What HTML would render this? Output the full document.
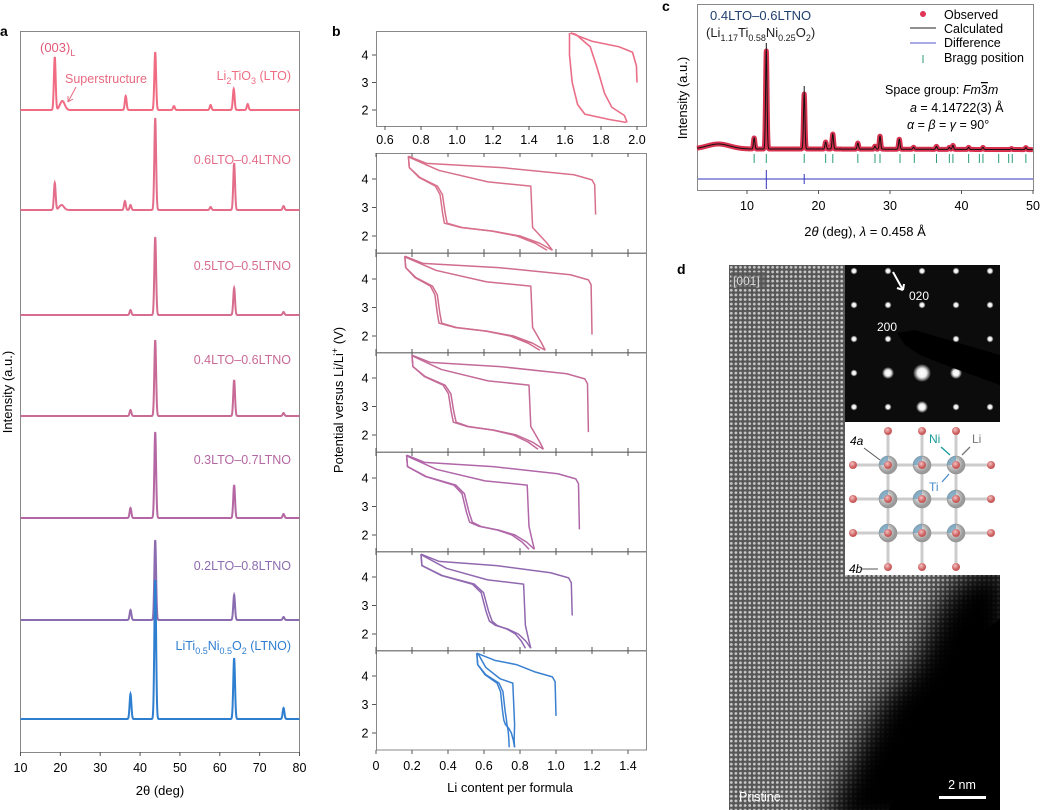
<!DOCTYPE html>
<html><head><meta charset="utf-8">
<style>
html,body{margin:0;padding:0;background:#fff;}
svg{display:block;font-family:"Liberation Sans",sans-serif;}
</style></head>
<body>
<svg id="fig" width="1040" height="810" viewBox="0 0 1040 810" xmlns="http://www.w3.org/2000/svg">
<defs>
  <pattern id="atoms" x="729" y="265" width="4.6" height="4.6" patternUnits="userSpaceOnUse">
    <rect width="4.6" height="4.6" fill="#565656"/>
    <circle cx="2.3" cy="2.3" r="1.4" fill="#c8c8c8"/>
  </pattern>
  <filter id="blur12"><feGaussianBlur stdDeviation="14"/></filter>
  <radialGradient id="spot"><stop offset="0" stop-color="#fff"/><stop offset="0.5" stop-color="#eee"/><stop offset="1" stop-color="#fff" stop-opacity="0"/></radialGradient>
  <radialGradient id="sph" cx="0.4" cy="0.4"><stop offset="0" stop-color="#fafafa"/><stop offset="1" stop-color="#9a9a9a"/></radialGradient>
  <radialGradient id="osph" cx="0.4" cy="0.35"><stop offset="0" stop-color="#f6c0c0"/><stop offset="1" stop-color="#c85a5a"/></radialGradient>
  <clipPath id="dclip"><rect x="729" y="265" width="271" height="545"/></clipPath>
</defs>

<text x="0" y="36" font-size="14" font-weight="bold">a</text>
<text x="332" y="36" font-size="14" font-weight="bold">b</text>
<text x="662" y="11" font-size="14" font-weight="bold">c</text>
<text x="677" y="274" font-size="14" font-weight="bold">d</text>

<g id="pa">
  <rect x="20.5" y="31.5" width="279" height="721" fill="none" stroke="#888" stroke-width="1"/>
  <g id="pa-curves"></g>
  <g id="pa-axis"></g>
  <text x="160" y="795" font-size="13" text-anchor="middle">2θ (deg)</text>
  <text transform="translate(12,392) rotate(-90)" font-size="13" text-anchor="middle">Intensity (a.u.)</text>
  <text x="40" y="52" font-size="13" fill="#e05a78">(003)<tspan font-size="9" dy="4">L</tspan></text>
  <text x="65" y="83" font-size="12.5" fill="#e86a80">Superstructure</text>
  <path d="M76 87 L68 102 M68 102 L68 96 M68 102 L73 99" stroke="#e86a80" fill="none" stroke-width="1"/>
</g>

<g id="pb">
  <g id="pb-frames"></g>
  <g id="pb-curves"></g>
  <text transform="translate(343,400) rotate(-90)" font-size="13" text-anchor="middle">Potential versus Li/Li<tspan font-size="9" dy="-5">+</tspan><tspan dy="5"> (V)</tspan></text>
  <text x="510" y="792" font-size="13" text-anchor="middle">Li content per formula</text>
</g>

<g id="pc">
  <rect x="697.5" y="4.5" width="336" height="186" fill="none" stroke="#888"/>
  <g id="pc-curves"></g>
  <g id="pc-axis"></g>
  <text transform="translate(687,98) rotate(-90)" font-size="13" text-anchor="middle">Intensity (a.u.)</text>
  <text x="865" y="236" font-size="13" text-anchor="middle">2<tspan font-style="italic">θ</tspan> (deg), <tspan font-style="italic">λ</tspan> = 0.458 Å</text>
  <text x="710" y="20" font-size="13" fill="#1f3f6e">0.4LTO–0.6LTNO</text>
  <text x="706" y="37" font-size="13" fill="#222">(Li<tspan font-size="9" dy="4">1.17</tspan><tspan dy="-4">Ti</tspan><tspan font-size="9" dy="4">0.58</tspan><tspan dy="-4">Ni</tspan><tspan font-size="9" dy="4">0.25</tspan><tspan dy="-4">O</tspan><tspan font-size="9" dy="4">2</tspan><tspan dy="-4">)</tspan></text>
  <g>
    <circle cx="923" cy="14" r="3" fill="#e03355"/>
    <text x="944" y="19" font-size="12.5">Observed</text>
    <line x1="910" y1="28" x2="936" y2="28" stroke="#222"/>
    <text x="944" y="33" font-size="12.5">Calculated</text>
    <line x1="910" y1="43" x2="936" y2="43" stroke="#5555cc"/>
    <text x="944" y="47" font-size="12.5">Difference</text>
    <line x1="923" y1="55" x2="923" y2="63" stroke="#2a9a7a"/>
    <text x="944" y="62" font-size="12.5">Bragg position</text>
  </g>
  <text x="885" y="94" font-size="12.5">Space group: <tspan font-style="italic">Fm</tspan><tspan text-decoration="overline">3</tspan><tspan font-style="italic">m</tspan></text>
  <text x="910" y="112" font-size="12.5"><tspan font-style="italic">a</tspan> = 4.14722(3) Å</text>
  <text x="907" y="129" font-size="12.5"><tspan font-style="italic">α</tspan> = <tspan font-style="italic">β</tspan> = <tspan font-style="italic">γ</tspan> = 90°</text>
</g>

<g id="pd">
  <rect x="729" y="265" width="271" height="545" fill="url(#atoms)"/>
  <g clip-path="url(#dclip)">
    <path d="M1010 560 L960 575 L935 610 L915 660 L880 700 L850 760 L820 830 L1030 830 Z" fill="#000" filter="url(#blur12)"/>
    <path d="M1010 610 L975 640 L950 700 L910 760 L880 830 L1030 830 Z" fill="#000"/>
  </g>
  <rect x="731" y="272" width="34" height="17" fill="#555" opacity="0.6"/>
  <text x="733" y="285" font-size="12" fill="#ddd">[001]</text>
  <text x="739" y="801" font-size="12.5" fill="#fff">Pristine</text>
  <rect x="939" y="796" width="47" height="3" fill="#fff"/>
  <text x="962" y="789" font-size="12.5" fill="#fff" text-anchor="middle">2 nm</text>
  <g id="saed">
    <rect x="845" y="265" width="155" height="157" fill="#0c0c0c"/>
  </g>
  <g id="struct">
    <rect x="845" y="422" width="155" height="153" fill="#fff"/>
  </g>
</g>

<script>
const NS="http://www.w3.org/2000/svg";
function mk(parent,tag,attrs){const e=document.createElementNS(NS,tag);for(const k in attrs)e.setAttribute(k,attrs[k]);parent.appendChild(e);return e;}
function pathD(pts){return pts.map((p,i)=>(i?"L":"M")+p[0].toFixed(2)+" "+p[1].toFixed(2)).join(" ");}
function rich(t,parts){let sub=false;parts.forEach(p=>{const ts=document.createElementNS(NS,"tspan");const s=p[1]===1;if(s){ts.setAttribute("font-size","9");}if(s!==sub){ts.setAttribute("dy",s?"4":"-4");sub=s;}ts.textContent=p[0];t.appendChild(ts);});}

/* Panel a */
const aSamples=["Li2TiO3 (LTO)","0.6LTO–0.4LTNO","0.5LTO–0.5LTNO","0.4LTO–0.6LTNO","0.3LTO–0.7LTNO","0.2LTO–0.8LTNO","LiTi0.5Ni0.5O2 (LTNO)"];
const aBaselines=[110,210,315,416,518,620,719];
const aPeakPos=[
 [18.6,20.5,36.4,43.8,48.5,57.7,63.5,67.0],
 [18.6,20.3,36.2,37.6,43.8,57.7,63.6,76.0],
 [37.6,43.8,63.6,76.0],
 [37.6,43.8,63.6,76.0],
 [37.6,43.8,63.6,76.0],
 [37.6,43.8,63.6,76.0],
 [37.6,43.8,63.6,76.0]];
const aPeakH=[
 [53,9,14,58,4,5,21,6],
 [27,5,9,5,92,3,47,4],
 [5,78,27,3],
 [6,76,36,3],
 [10,86,33,4],
 [10,80,25,3],
 [25,139,61,11]];
const aColors=["#f06c82","#e46e8a","#d66c8e","#c86a96","#b467a2","#8c6cb0","#2f7fd0"];
const aXTicks=[10,20,30,40,50,60,70,80];
const ax=t=>20.5+(t-10)*279/70;

const pac=document.getElementById("pa-curves");
aSamples.forEach((name,i)=>{
  const pts=[];
  for(let t=10;t<=80;t+=0.05){
    let y=aBaselines[i];
    aPeakPos[i].forEach((p,j)=>{const w=(aPeakH[i][j]<12&&p<22)?0.6:0.22;y-=aPeakH[i][j]*Math.exp(-((t-p)**2)/(2*w*w));});
    pts.push([ax(t),y]);
  }
  const el=mk(pac,"path",{d:pathD(pts),fill:"none",stroke:aColors[i],"stroke-width":2});
  
  
});
const aLabelY=[80,164,270,364,464,570,650];
aSamples.forEach((name,i)=>{
  const t=mk(pac,"text",{x:291,y:aLabelY[i],"font-size":12.5,fill:aColors[i],"text-anchor":"end"});
  if(i===0) rich(t,[["Li",0],["2",1],["TiO",0],["3",1],[" (LTO)",0]]);
  else if(i===6) rich(t,[["LiTi",0],["0.5",1],["Ni",0],["0.5",1],["O",0],["2",1],[" (LTNO)",0]]);
  else t.textContent=name;
  
  
});
const paa=document.getElementById("pa-axis");
aXTicks.forEach(v=>{
  mk(paa,"line",{x1:ax(v),x2:ax(v),y1:752,y2:756,stroke:"#555"});
  const t=mk(paa,"text",{x:ax(v),y:772,"font-size":12.5,"text-anchor":"middle"});t.textContent=v;
  
  
});

/* Panel b */
const bNames=["LTO","0.6LTO","0.5LTO","0.4LTO","0.3LTO","0.2LTO","LTNO"];
const bColors=["#ea6e88","#d8708c","#d06c8e","#c46a98","#b066a8","#9068b0","#3a80d0"];
const bTopCharge1=[[2.0,3.0],[1.997,3.6],[1.975,4.1],[1.9,4.3],[1.75,4.5],[1.63,4.8]];
const bTopDischarge=[[1.625,4.8],[1.625,4.0],[1.64,3.0],[1.67,2.2],[1.71,1.85],[1.85,1.65],[1.94,1.55]];
const bTopCharge2=[[1.945,1.55],[1.93,1.8],[1.86,2.1],[1.82,2.6],[1.78,3.5],[1.74,4.3],[1.66,4.75],[1.635,4.8]];
const bStartX=[1.22,1.2,1.18,1.13,1.09,1.0];
const bStartV=[2.75,2.05,2.1,2.2,2.65,2.6];
const bMinX=[0.18,0.16,0.2,0.17,0.25,0.56];
const bStepX=[0.38,0.35,0.43,0.52,0.63,0.71];
const bEndX=[0.98,0.94,0.93,0.88,0.86,0.77];
const bRetX=[0.86,0.86,0.85,0.84,0.82,0.76];
const bXTicksTop=[0.6,0.8,1.0,1.2,1.4,1.6,1.8,2.0];
const bXTicks=[0,0.2,0.4,0.6,0.8,1.0,1.2,1.4];
const bYTicks=[2,3,4];

const bxTop=x=>385+(x-0.6)*180;
const byTop=v=>55-(v-4)*27.5;
const bx=x=>376+x*180;
const panelTop=[153,253,352,452,551,650];
const by=(i,v)=>panelTop[i]+26-(v-4)*28.5;

const pbf=document.getElementById("pb-frames"),pbc=document.getElementById("pb-curves");
mk(pbf,"rect",{x:376.5,y:31.5,width:270,height:95,fill:"none",stroke:"#888"});
bXTicksTop.forEach(v=>{
  mk(pbf,"line",{x1:bxTop(v),x2:bxTop(v),y1:126,y2:130,stroke:"#555"});
  const t=mk(pbf,"text",{x:bxTop(v),y:144,"font-size":12.5,"text-anchor":"middle"});t.textContent=v.toFixed(1);
  
  
});
bYTicks.forEach(v=>{
  mk(pbf,"line",{x1:372,x2:376,y1:byTop(v),y2:byTop(v),stroke:"#555"});
  const t=mk(pbf,"text",{x:365,y:byTop(v)+4.5,"font-size":12.5,"text-anchor":"middle"});t.textContent=v;
});
[bTopCharge1,bTopDischarge,bTopCharge2].forEach((c,k)=>{
  const el=mk(pbc,"path",{d:pathD(c.map(p=>[bxTop(p[0]),byTop(p[1])])),fill:"none",stroke:bColors[0],"stroke-width":1.6});
  
  
});
for(let i=0;i<6;i++){
  const top=panelTop[i];
  mk(pbf,"rect",{x:376.5,y:top+0.5,width:270,height:99.5,fill:"none",stroke:"#888"});
  bXTicks.forEach(v=>{mk(pbf,"line",{x1:bx(v),x2:bx(v),y1:top,y2:top+4,stroke:"#555"});if(i<5)mk(pbf,"line",{x1:bx(v),x2:bx(v),y1:top+96,y2:top+100,stroke:"#555"});});
  bYTicks.forEach(v=>{
    mk(pbf,"line",{x1:372,x2:376,y1:by(i,v),y2:by(i,v),stroke:"#555"});
    const t=mk(pbf,"text",{x:365,y:by(i,v)+4.5,"font-size":12.5,"text-anchor":"middle"});t.textContent=v;
  });
  const s=bStartX[i],sv=bStartV[i],m=bMinX[i],k=bStepX[i],e=bEndX[i],r=bRetX[i];
  const ch1=[[s,sv],[s-0.005,3.8],[s-0.02,3.97],[s-0.12,4.15],[m+0.5*(s-m),4.4],[m+0.1,4.55],[m,4.8]];
  const dis=(dk,de)=>{const g=dk-m,h=de-dk;return [[m,4.8],[m+0.005,4.4],[m+0.3*g,4.05],[dk-0.25*g,3.75],[dk-0.12*g,3.45],[dk-0.05*g,2.8],[dk,2.45],[dk+0.15*h,2.3],[dk+0.45*h,2.17],[dk+0.7*h,2.0],[dk+0.88*h,1.75],[de,1.5]];};
  const ch2=[[e,1.5],[e-0.25*(e-r),1.75],[r+0.01*(e>r?1:0),2.3],[r,3.75],[r-0.35*(r-m),3.9],[m+0.25*(r-m),4.3],[m+0.01,4.75],[m,4.8]];
  [ch1,dis(k,e),ch2,dis(k+0.015,e-0.03)].forEach((c,j)=>{
    const el=mk(pbc,"path",{d:pathD(c.map(p=>[bx(p[0]),by(i,p[1])])),fill:"none",stroke:bColors[i+1],"stroke-width":1.5,"stroke-linejoin":"round"});
    
    
  });
}
bXTicks.forEach(v=>{
  mk(pbf,"line",{x1:bx(v),x2:bx(v),y1:750,y2:754,stroke:"#555"});
  const t=mk(pbf,"text",{x:bx(v),y:770,"font-size":12.5,"text-anchor":"middle"});t.textContent=v===0?"0":v.toFixed(1);
  
  
});

/* Panel c */
const cPeakPos=[11.0,12.7,18.0,21.0,22.0,25.5,27.9,28.6,31.3,33.3,36.5,38.3,38.8,41.0,43.0,47.0,49.0];
const cPeakH=[11,98,55,7,15,6,3,13,10,2,3,2,4,2,2,1,2];
const cBragg=[11,12.7,18,21,22,25.5,27.9,28.6,31.4,33.4,36.5,38.3,38.8,41,42.5,43,45.2,46.6,47.1,49];
const cXTicks=[10,20,30,40,50];
const cx=t=>747+(t-10)*7.15;
const cBase=149;
const pcc=document.getElementById("pc-curves");
const cpts=[];
for(let t=3;t<=50;t+=0.02){
  let y=cBase-5*Math.exp(-((t-6)**2)/(2*1.6*1.6))+(t>20?(t-20)*0.02:0);
  cPeakPos.forEach((p,j)=>{y-=cPeakH[j]*Math.exp(-((t-p)**2)/(2*0.1*0.1));});
  cpts.push([cx(t),y]);
}
let el=mk(pcc,"path",{d:pathD(cpts),fill:"none",stroke:"#d8304f","stroke-width":5,"stroke-linejoin":"round"});


el=mk(pcc,"path",{d:pathD(cpts),fill:"none",stroke:"#111","stroke-width":1});


[12.7,18.0].forEach(p=>mk(pcc,"line",{x1:cx(p),x2:cx(p),y1:cBase-cPeakH[cPeakPos.indexOf(p)]-8,y2:cBase-cPeakH[cPeakPos.indexOf(p)],stroke:"#111"}));
cBragg.forEach(p=>{
  const l=mk(pcc,"line",{x1:cx(p),x2:cx(p),y1:154,y2:163,stroke:"#2a9a7a","stroke-width":1});
  
  
});
el=mk(pcc,"line",{x1:698,x2:1033,y1:179,y2:179,stroke:"#3333bb","stroke-width":1});


mk(pcc,"line",{x1:cx(12.7),x2:cx(12.7),y1:170,y2:189,stroke:"#3333bb"});
mk(pcc,"line",{x1:cx(18),x2:cx(18),y1:174,y2:184,stroke:"#3333bb"});
const pca=document.getElementById("pc-axis");
cXTicks.forEach(v=>{
  mk(pca,"line",{x1:cx(v),x2:cx(v),y1:190,y2:194,stroke:"#555"});
  const t=mk(pca,"text",{x:cx(v),y:210,"font-size":12.5,"text-anchor":"middle"});t.textContent=v;
  
  
});

/* Panel d insets */
const saed=document.getElementById("saed");
for(let a=-3;a<=2;a++)for(let b=-3;b<=2;b++){
  const x=922+a*34,y=373+b*34;
  if(x<848||x>998||y<268||y>420)continue;
  const r=(a===0&&b===0)?9:((Math.abs(a)+Math.abs(b))===1?6:3.5);
  mk(saed,"circle",{cx:x,cy:y,r:r,fill:"url(#spot)"});
}
mk(saed,"path",{d:"M897 333 L915 330 L935 336 L1000 355 L1000 385 L945 365 L920 355 L905 345 Z",fill:"#000"});
mk(saed,"path",{d:"M893 272 L903 290 M903 290 L897 288 M903 290 L904 284",stroke:"#fff","stroke-width":2,fill:"none"});
let tt=mk(saed,"text",{x:909,y:300,"font-size":12,fill:"#fff"});tt.textContent="020";
tt=mk(saed,"text",{x:877,y:331,"font-size":12,fill:"#fff"});tt.textContent="200";

const st=document.getElementById("struct");
const gx=[888,922,956],gy=[465,499,533];
gx.forEach(x=>{mk(st,"line",{x1:x,x2:x,y1:431,y2:567,stroke:"#ccc","stroke-width":3});});
gy.forEach(y=>{mk(st,"line",{x1:853,x2:991,y1:y,y2:y,stroke:"#ccc","stroke-width":3});});
gx.forEach(x=>gy.forEach(y=>{
  mk(st,"circle",{cx:x,cy:y,r:9,fill:"url(#sph)",stroke:"#888","stroke-width":0.5});
  mk(st,"path",{d:`M${x-9} ${y} A9 9 0 0 1 ${x} ${y-9} L${x} ${y} Z`,fill:"#6aa0c0",opacity:0.7});
  mk(st,"circle",{cx:x,cy:y,r:4,fill:"url(#osph)"});
}));
gx.forEach(x=>{[431,567].forEach(y=>mk(st,"circle",{cx:x,cy:y,r:4,fill:"url(#osph)"}));});
gy.forEach(y=>{[853,991].forEach(x=>mk(st,"circle",{cx:x,cy:y,r:4,fill:"url(#osph)"}));});
tt=mk(st,"text",{x:850,y:445,"font-size":12,"font-style":"italic"});tt.textContent="4a";
tt=mk(st,"text",{x:929,y:443,"font-size":12,fill:"#1a9a9a"});tt.textContent="Ni";
tt=mk(st,"text",{x:972,y:443,"font-size":12,fill:"#777"});tt.textContent="Li";
tt=mk(st,"text",{x:929,y:491,"font-size":12,fill:"#4a8ac8"});tt.textContent="Ti";
tt=mk(st,"text",{x:849,y:573,"font-size":12,"font-style":"italic"});tt.textContent="4b";
mk(st,"line",{x1:862,x2:878,y1:569,y2:569,stroke:"#555"});
mk(st,"line",{x1:864,x2:880,y1:448,y2:460,stroke:"#555"});
mk(st,"line",{x1:941,x2:950,y1:447,y2:455,stroke:"#1a9a9a","stroke-width":1.3});
mk(st,"line",{x1:970,y1:447,x2:962,y2:455,stroke:"#777","stroke-width":1.3});
mk(st,"line",{x1:942,y1:482,x2:949,y2:474,stroke:"#4a8ac8","stroke-width":1.3});
</script>
</svg>
</body></html>
